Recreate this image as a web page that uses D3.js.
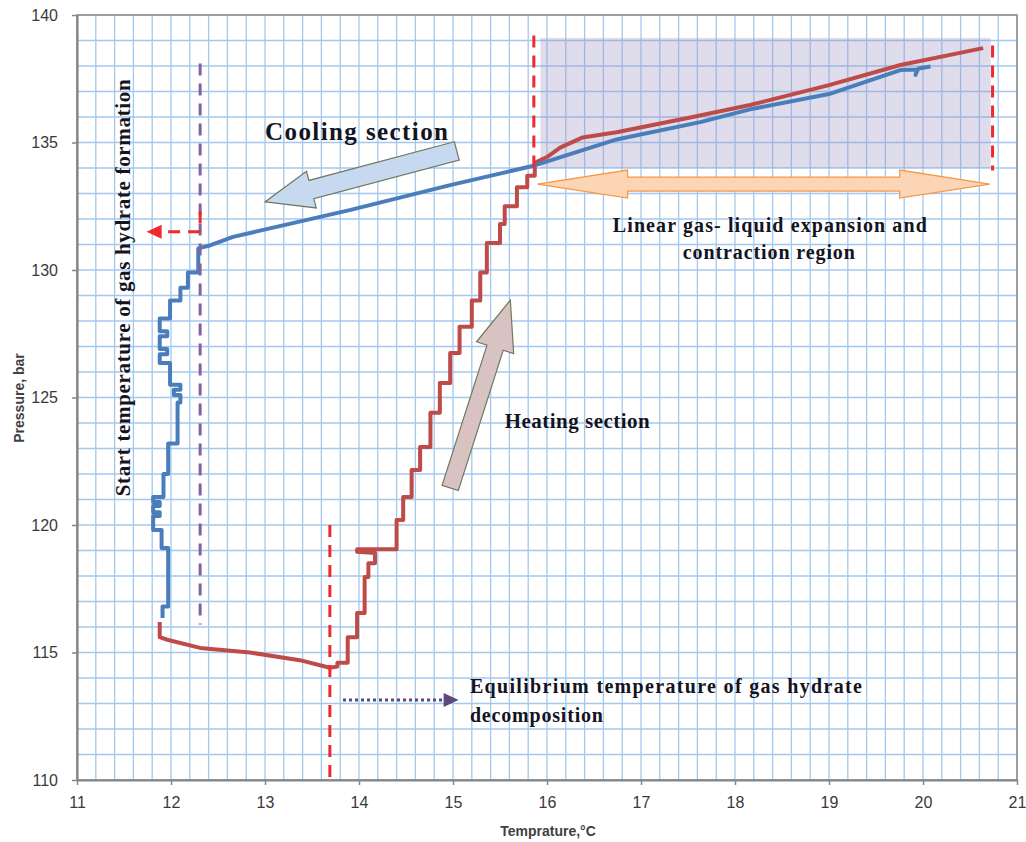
<!DOCTYPE html>
<html>
<head>
<meta charset="utf-8">
<script src="https://cdn.jsdelivr.net/npm/d3@7"></script>
<style>
  body { margin: 0; background: #fff; }
  .note { font-family: "Liberation Serif", "Times New Roman", serif; font-weight: bold; fill: #14141f; }
</style>
</head>
<body>
<div class="canvas"></div>
<script>
// Data (temperature in °C, pressure in bar)
const coolingT = [20.08, 19.95, 19.92, 19.94, 19.76, 19.00, 18.16, 17.63, 16.74, 15.87, 14.97, 13.90, 12.66, 12.40,
  12.29, 12.29, 12.18, 12.18, 12.10, 12.10, 11.99, 11.99, 11.88, 11.88, 11.96, 11.96, 11.88, 11.88, 11.96, 11.96,
  11.88, 11.88, 11.99, 11.99, 12.10, 12.10, 12.03, 12.03, 12.10, 12.10, 12.07, 12.07, 11.97, 11.97, 11.92, 11.92,
  11.81, 11.81, 11.88, 11.88, 11.81, 11.81, 11.88, 11.88, 11.81, 11.81, 11.90, 11.90, 11.97, 11.97, 11.91, 11.91];
const coolingP = [137.98, 137.90, 137.65, 137.86, 137.84, 136.90, 136.30, 135.80, 135.12, 134.10, 133.33, 132.35, 131.30, 130.95,
  130.85, 129.90, 129.90, 129.30, 129.30, 128.80, 128.80, 128.10, 128.10, 127.60, 127.60, 127.40, 127.40, 126.90, 126.90, 126.70,
  126.70, 126.35, 126.35, 125.50, 125.50, 125.30, 125.30, 125.10, 125.10, 124.80, 124.80, 123.20, 123.20, 122.00, 122.00, 121.10,
  121.10, 120.90, 120.90, 120.75, 120.75, 120.50, 120.50, 120.35, 120.35, 119.80, 119.80, 119.10, 119.10, 116.80, 116.80, 116.35];

const heatingT = [11.88, 11.88, 11.96, 12.31, 12.84, 13.37, 13.69, 13.77, 13.77, 13.88, 13.88, 13.98, 13.98, 14.06, 14.06,
  14.10, 14.10, 14.17, 14.17, 13.98, 13.98, 14.40, 14.40, 14.47, 14.47, 14.56, 14.56, 14.65, 14.65, 14.76, 14.76,
  14.86, 14.86, 14.97, 14.97, 15.07, 15.07, 15.20, 15.20, 15.29, 15.29, 15.36, 15.36, 15.50, 15.50, 15.55, 15.55,
  15.68, 15.68, 15.79, 15.79, 15.87, 15.87, 16.00, 16.14, 16.38, 16.74, 17.55, 18.16, 19.00, 19.76, 20.64];
const heatingP = [116.20, 115.60, 115.50, 115.18, 115.00, 114.70, 114.40, 114.45, 114.60, 114.60, 115.60, 115.60, 116.55, 116.55, 117.96,
  117.96, 118.50, 118.50, 118.90, 118.95, 119.05, 119.05, 120.20, 120.20, 121.10, 121.10, 122.16, 122.16, 123.06, 123.06, 124.40,
  124.40, 125.57, 125.57, 126.75, 126.75, 127.77, 127.77, 128.80, 128.80, 129.90, 129.90, 131.06, 131.06, 131.80, 131.80, 132.50,
  132.50, 133.25, 133.25, 133.70, 133.70, 134.20, 134.43, 134.80, 135.20, 135.40, 136.00, 136.47, 137.25, 138.04, 138.70];

const xTicks = [11, 12, 13, 14, 15, 16, 17, 18, 19, 20, 21];
const yTicks = [110, 115, 120, 125, 130, 135, 140];

// Marker lines (temperatures) and the shaded linear region
const startTemp = 12.31;
const equilTemp = 13.69;
const linearRegion = [15.93, 20.72];
const linearPress = [134.0, 139.1];

// Graph set up
const svgWidth = 1026;
const svgHeight = 842;
const margin = {top: 15, right: 9, bottom: 62, left: 77};
const graphWidth = svgWidth - margin.left - margin.right;
const graphHeight = svgHeight - margin.top - margin.bottom;

const svg = d3.select('.canvas')
    .append('svg')
    .attr('width', svgWidth)
    .attr('height', svgHeight);

svg.append('rect')
    .attr('width', svgWidth)
    .attr('height', svgHeight)
    .attr('fill', '#fff');

const graph = svg.append('g')
    .attr('transform', `translate(${margin.left},${margin.top})`);

// Scales
const x = d3.scaleLinear().domain([11, 21]).range([0, graphWidth]);
const y = d3.scaleLinear().domain([110, 140]).range([graphHeight, 0]);

// Grid
const gridX = d3.range(0, 51).map(i => 11 + i * 0.2);
const gridY = d3.range(110, 141);

graph.append('g').selectAll('line')
    .data(gridX)
    .enter().append('line')
    .attr('x1', d => x(d)).attr('x2', d => x(d))
    .attr('y1', 0).attr('y2', graphHeight)
    .attr('stroke', '#a3c8ee')
    .attr('stroke-width', 1.3);

graph.append('g').selectAll('line')
    .data(gridY)
    .enter().append('line')
    .attr('x1', 0).attr('x2', graphWidth)
    .attr('y1', d => y(d)).attr('y2', d => y(d))
    .attr('stroke', '#a3c8ee')
    .attr('stroke-width', 1.3);

// Shaded linear region
graph.append('rect')
    .attr('x', x(linearRegion[0]))
    .attr('y', y(linearPress[1]))
    .attr('width', x(linearRegion[1]) - x(linearRegion[0]))
    .attr('height', y(linearPress[0]) - y(linearPress[1]))
    .attr('fill', '#9d95c6')
    .attr('opacity', 0.33);

// Frame
graph.append('rect')
    .attr('width', graphWidth)
    .attr('height', graphHeight)
    .attr('fill', 'none')
    .attr('stroke', '#8c8c8c')
    .attr('stroke-width', 1.5);

// Axes
const xAxis = d3.axisBottom(x).tickValues(xTicks).tickSize(5).tickSizeOuter(0).tickPadding(12);
const yAxis = d3.axisLeft(y).tickValues(yTicks).tickSize(5).tickSizeOuter(0).tickPadding(14);

const xAxisGroup = graph.append('g')
    .attr('transform', `translate(0,${graphHeight})`)
    .call(xAxis);
const yAxisGroup = graph.append('g').call(yAxis);

[xAxisGroup, yAxisGroup].forEach(g => {
    g.attr('font-size', 16)
        .attr('font-family', '"Liberation Sans", Arial, sans-serif');
    g.selectAll('.tick text').attr('fill', '#3a3a3a');
    g.select('.domain').attr('stroke', '#868686').attr('stroke-width', 2.2);
    g.selectAll('.tick line').attr('stroke', '#868686').attr('stroke-width', 1.5);
});

// Axis titles
svg.append('text')
    .attr('x', 548).attr('y', 836)
    .attr('text-anchor', 'middle')
    .attr('font-family', '"Liberation Sans", Arial, sans-serif')
    .attr('font-size', 14).attr('font-weight', 'bold').attr('fill', '#404040')
    .text('Temprature,°C');

svg.append('text')
    .attr('transform', 'translate(24,398) rotate(-90)')
    .attr('text-anchor', 'middle')
    .attr('font-family', '"Liberation Sans", Arial, sans-serif')
    .attr('font-size', 14).attr('font-weight', 'bold').attr('fill', '#404040')
    .text('Pressure, bar');

// Curves
const line = d3.line()
    .x(d => x(d[0]))
    .y(d => y(d[1]));

graph.append('path')
    .datum(d3.zip(heatingT, heatingP))
    .attr('fill', 'none')
    .attr('stroke', '#be4b48')
    .attr('stroke-width', 4)
    .attr('stroke-linejoin', 'round')
    .attr('d', line);

graph.append('path')
    .datum(d3.zip(coolingT, coolingP))
    .attr('fill', 'none')
    .attr('stroke', '#4a7ebb')
    .attr('stroke-width', 4)
    .attr('stroke-linejoin', 'round')
    .attr('d', line);

// Dashed marker lines
const dashed = (t1, p1, t2, p2, color) => graph.append('line')
    .attr('x1', x(t1)).attr('y1', y(p1))
    .attr('x2', x(t2)).attr('y2', y(p2))
    .attr('stroke', color)
    .attr('stroke-width', 3)
    .attr('stroke-dasharray', '12,8');

dashed(startTemp, 138.1, startTemp, 116.1, '#8064a2');
dashed(startTemp, 132.3, startTemp, 131.5, '#ee2a2a');
dashed(startTemp, 131.5, 11.9, 131.5, '#ee2a2a');
dashed(15.86, 139.2, 15.86, 133.9, '#ee2a2a');
dashed(20.74, 138.8, 20.74, 133.9, '#ee2a2a');
dashed(equilTemp, 120.0, equilTemp, 110.0, '#ee2a2a');

// small red arrow head (left)
graph.append('path')
    .attr('d', `M${x(11.74)},${y(131.5)} L${x(11.9)},${y(131.5) - 7} L${x(11.9)},${y(131.5) + 7} Z`)
    .attr('fill', '#ee2a2a');

// Dotted purple arrow
graph.append('line')
    .attr('x1', x(13.83)).attr('y1', y(113.14))
    .attr('x2', x(14.9)).attr('y2', y(113.14))
    .attr('stroke', '#5f497a')
    .attr('stroke-width', 3)
    .attr('stroke-dasharray', '3,3');
graph.append('path')
    .attr('d', `M${x(15.06)},${y(113.14)} L${x(14.9)},${y(113.14) - 7} L${x(14.9)},${y(113.14) + 7} Z`)
    .attr('fill', '#5f497a');

// Block arrows
const blockArrow = (t0, p0, t1, p1, shaftW, headW, headL) => {
    const x0 = x(t0), y0 = y(p0), x1 = x(t1), y1 = y(p1);
    const len = Math.hypot(x1 - x0, y1 - y0);
    const ux = (x1 - x0) / len, uy = (y1 - y0) / len;
    const nx = -uy, ny = ux;
    const bx = x1 - ux * headL, by = y1 - uy * headL;
    const pts = [
        [x0 + nx * shaftW / 2, y0 + ny * shaftW / 2],
        [bx + nx * shaftW / 2, by + ny * shaftW / 2],
        [bx + nx * headW / 2, by + ny * headW / 2],
        [x1, y1],
        [bx - nx * headW / 2, by - ny * headW / 2],
        [bx - nx * shaftW / 2, by - ny * shaftW / 2],
        [x0 - nx * shaftW / 2, y0 - ny * shaftW / 2]
    ];
    return 'M' + pts.map(p => p.join(',')).join('L') + 'Z';
};

graph.append('path')
    .attr('d', blockArrow(15.04, 134.67, 13.0, 132.67, 19, 38, 48))
    .attr('fill', '#c6d9f1')
    .attr('stroke', '#6e7a5c')
    .attr('stroke-width', 1.2);

graph.append('path')
    .attr('d', blockArrow(14.97, 121.45, 15.61, 128.82, 17, 39, 50))
    .attr('fill', '#d9c3c2')
    .attr('stroke', '#6e7a5c')
    .attr('stroke-width', 1.2);

// Double arrow across the linear region
const dx0 = x(15.9), dx1 = x(20.71), dy = y(133.37);
const hw = 14, sw = 7, hl = 90;
graph.append('path')
    .attr('d', `M${dx0},${dy} L${dx0 + hl},${dy - hw} L${dx0 + hl},${dy - sw} L${dx1 - hl},${dy - sw} L${dx1 - hl},${dy - hw}
        L${dx1},${dy} L${dx1 - hl},${dy + hw} L${dx1 - hl},${dy + sw} L${dx0 + hl},${dy + sw} L${dx0 + hl},${dy + hw} Z`)
    .attr('fill', '#fbd5b5')
    .attr('stroke', '#f79646')
    .attr('stroke-width', 1.2);

// Notes
const note = (t, p, str, size, len, anchor) => graph.append('text')
    .attr('class', 'note')
    .attr('x', x(t)).attr('y', y(p))
    .attr('font-size', size)
    .attr('text-anchor', anchor || 'start')
    .attr('textLength', len)
    .attr('lengthAdjust', 'spacing')
    .text(str);

note(13.0, 135.1, 'Cooling section', 25, 183);
note(15.55, 123.8, 'Heating section', 21, 145);
note(18.37, 131.49, 'Linear gas- liquid expansion and', 20, 314, 'middle');
note(18.36, 130.43, 'contraction region', 20, 172, 'middle');
note(15.18, 113.41, 'Equilibrium temperature of gas hydrate', 20, 392);
note(15.18, 112.27, 'decomposition', 20, 133);

graph.append('text')
    .attr('class', 'note')
    .attr('transform', `translate(${x(11.565)},${y(129.3)}) rotate(-90)`)
    .attr('text-anchor', 'middle')
    .attr('font-size', 21)
    .attr('textLength', 417)
    .attr('lengthAdjust', 'spacing')
    .text('Start temperature of gas hydrate formation');
</script>
</body>
</html>
